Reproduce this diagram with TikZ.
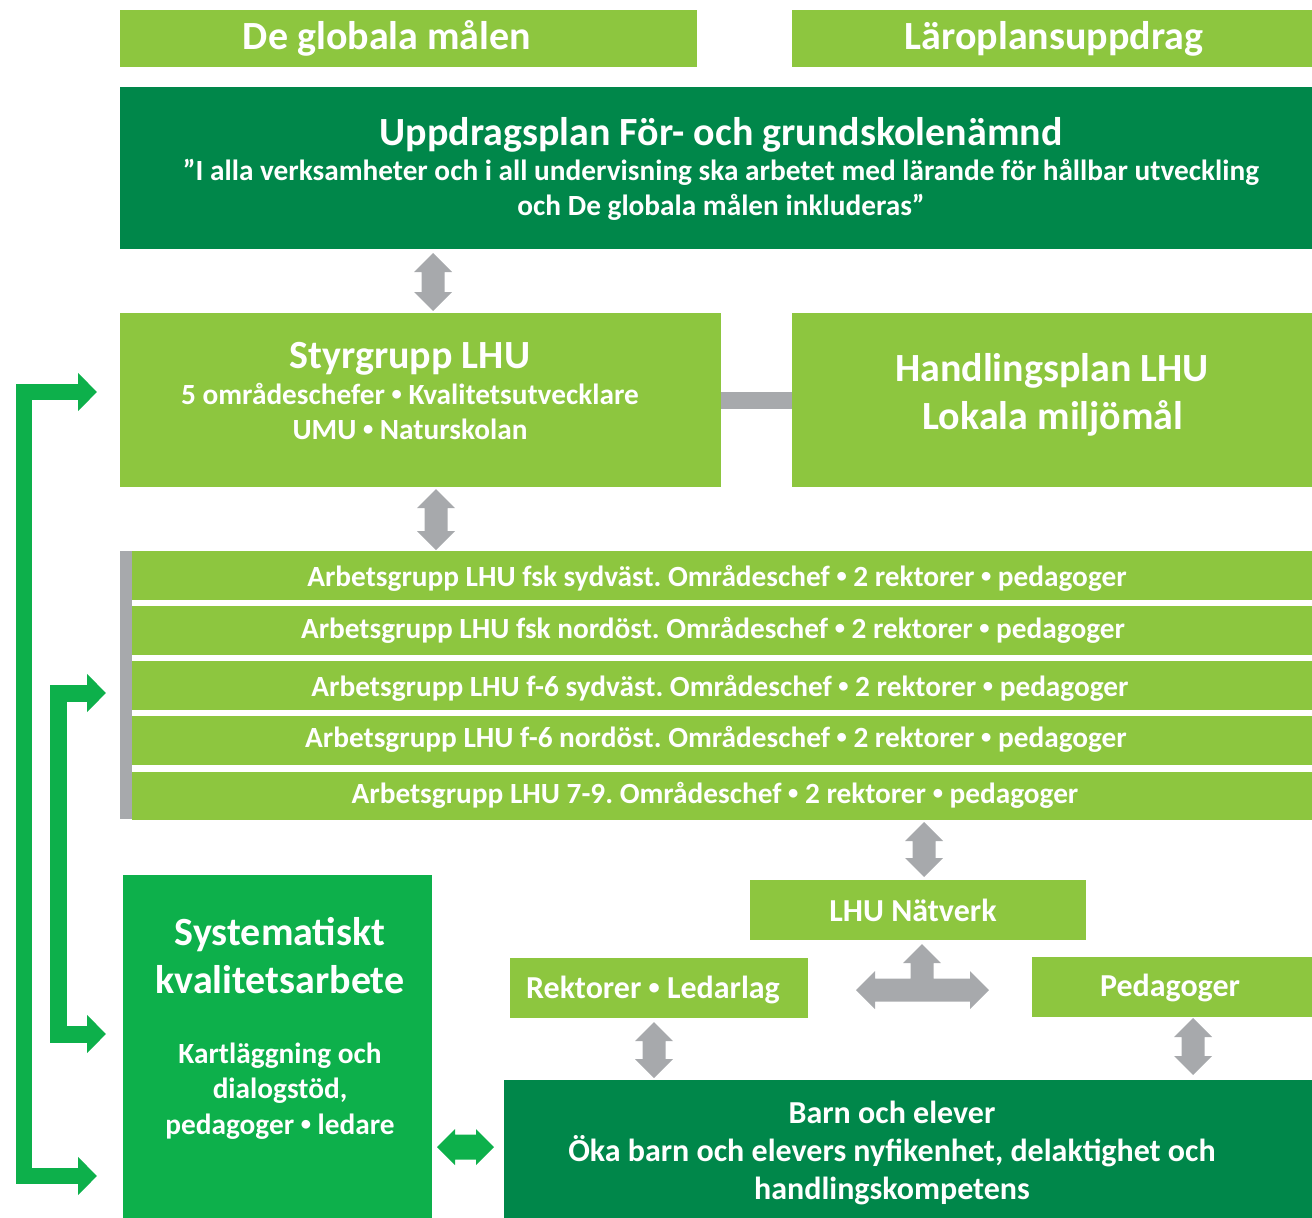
\documentclass[tikz,border=0pt]{standalone}
\usepackage{fontspec}
\usepackage{graphicx}
\setmainfont{Carlito}
\frenchspacing
\usetikzlibrary{calc,arrows.meta}
\definecolor{lgreen}{HTML}{8DC63F}
\definecolor{dgreen}{HTML}{00874A}
\definecolor{mgreen}{HTML}{0DB04B}
\definecolor{agray}{HTML}{A7A9AC}
\newcommand{\bul}{\raisebox{0.12em}{\scalebox{0.7}{•}}}
\tikzset{
  box/.style={rectangle, inner sep=0pt, outer sep=0pt, anchor=north west},
  lgbox/.style={box, fill=lgreen},
  dgbox/.style={box, fill=dgreen},
  mgbox/.style={box, fill=mgreen},
  txt/.style={text=white, anchor=base, inner sep=0pt, align=center},
  fbig/.style={txt, font=\fontsize{40}{40}\selectfont\bfseries},
  fmid/.style={txt, font=\fontsize{32}{32}\selectfont\bfseries},
  fsmall/.style={txt, font=\fontsize{29.3}{29.3}\selectfont\bfseries},
  garrow/.style={draw=mgreen, line width=16pt, line join=miter,
     {Triangle[width=37pt,length=19pt]}-{Triangle[width=37pt,length=19pt]}},
}
\newcommand{\vdarrow}[2]{\fill[agray] (#1) -- ($(#1)+(19,-19)$) -- ($(#1)+(11.5,-19)$) -- ($(#2)+(11.5,19)$) -- ($(#2)+(19,19)$) -- (#2) -- ($(#2)+(-19,19)$) -- ($(#2)+(-11.5,19)$) -- ($(#1)+(-11.5,-19)$) -- ($(#1)+(-19,-19)$) -- cycle;}
\newcommand{\hdarrow}[2]{\fill[mgreen] (#1) -- ($(#1)+(18,18)$) -- ($(#1)+(18,12.5)$) -- ($(#2)+(-18,12.5)$) -- ($(#2)+(-18,18)$) -- (#2) -- ($(#2)+(-18,-18)$) -- ($(#2)+(-18,-12.5)$) -- ($(#1)+(18,-12.5)$) -- ($(#1)+(18,-18)$) -- cycle;}
\begin{document}
\begin{tikzpicture}[x=1pt,y=1pt]
\useasboundingbox (0,0) rectangle (1312,-1218);
% top boxes
\node[lgbox, minimum width=577, minimum height=57] (glob) at (120,-10) {};
\node[lgbox, minimum width=520, minimum height=57] (laro) at (792,-10) {};
\node[fbig] (globt) at (387,-49) {De globala målen};
\node[fbig] (larot) at (1054,-49) {Läroplansuppdrag};
% uppdragsplan
\node[dgbox, minimum width=1192, minimum height=162] (upp) at (120,-87) {};
\node[fbig] (uppt) at (721,-145) {Uppdragsplan För- och grundskolenämnd};
\node[fsmall] (uppq1) at (721,-180) {”I alla verksamheter och i all undervisning ska arbetet med lärande för hållbar utveckling};
\node[fsmall] (uppq2) at (721,-215) {och De globala målen inkluderas”};
% styrgrupp & handlingsplan
\node[lgbox, minimum width=601, minimum height=174] (sty) at (120,-313) {};
\node[lgbox, minimum width=520, minimum height=174] (hand) at (792,-313) {};
\draw[agray, line width=17pt] (sty.east) -- (hand.west);
\node[fbig] (styt) at (410,-368.5) {Styrgrupp LHU};
\node[fsmall] (sty1) at (410,-404) {5 områdeschefer \bul{} Kvalitetsutvecklare};
\node[fsmall] (sty2) at (410,-439) {UMU \bul{} Naturskolan};
\node[fbig] (hand1) at (1052,-381) {Handlingsplan LHU};
\node[fbig] (hand2) at (1053,-429) {Lokala miljömål};
% arbetsgrupper
\node[box, fill=agray, minimum width=12, minimum height=268] (gbar) at (120,-551) {};
\node[lgbox, minimum width=1180, minimum height=49] (ag1) at (132,-551) {};
\node[lgbox, minimum width=1180, minimum height=49] (ag2) at (132,-606) {};
\node[lgbox, minimum width=1180, minimum height=49] (ag3) at (132,-661) {};
\node[lgbox, minimum width=1180, minimum height=49] (ag4) at (132,-716) {};
\node[lgbox, minimum width=1180, minimum height=48] (ag5) at (132,-772) {};
\node[fsmall] (ag1t) at (717,-586) {Arbetsgrupp LHU fsk sydväst. Områdeschef \bul{} 2 rektorer \bul{} pedagoger};
\node[fsmall] (ag2t) at (713,-638) {Arbetsgrupp LHU fsk nordöst. Områdeschef \bul{} 2 rektorer \bul{} pedagoger};
\node[fsmall] (ag3t) at (720,-696) {Arbetsgrupp LHU f-6 sydväst. Områdeschef \bul{} 2 rektorer \bul{} pedagoger};
\node[fsmall] (ag4t) at (716,-747) {Arbetsgrupp LHU f-6 nordöst. Områdeschef \bul{} 2 rektorer \bul{} pedagoger};
\node[fsmall] (ag5t) at (715,-803) {Arbetsgrupp LHU 7-9. Områdeschef \bul{} 2 rektorer \bul{} pedagoger};
% systematiskt
\node[mgbox, minimum width=309, minimum height=343] (sys) at (123,-875) {};
\node[fbig] (sys1) at (280,-945) {Systematiskt};
\node[fbig] (sys2) at (280,-993) {kvalitetsarbete};
\node[fsmall] (sys3) at (280,-1063) {Kartläggning och};
\node[fsmall] (sys4) at (280,-1098) {dialogstöd,};
\node[fsmall] (sys5) at (280,-1134) {pedagoger \bul{} ledare};
% network
\node[lgbox, minimum width=336, minimum height=60] (nat) at (750,-880) {};
\node[fmid] (natt) at (913,-921) {LHU Nätverk};
\node[lgbox, minimum width=298, minimum height=60] (rek) at (510,-958) {};
\node[fmid] (rekt) at (653,-998) {Rektorer \bul{} Ledarlag};
\node[lgbox, minimum width=280, minimum height=60] (ped) at (1032,-957) {};
\node[fmid] (pedt) at (1170,-996) {Pedagoger};
% barn
\node[dgbox, minimum width=808, minimum height=138] (barn) at (504,-1080) {};
\node[fmid] (barn1) at (892,-1123) {Barn och elever};
\node[fmid] (barn2) at (892,-1161) {Öka barn och elevers nyfikenhet, delaktighet och};
\node[fmid] (barn3) at (892,-1199) {handlingskompetens};
% gray double arrows
\coordinate (a1t) at (433,-253); \coordinate (a1b) at (433,-311);
\coordinate (a2t) at (436,-489); \coordinate (a2b) at (436,-550);
\coordinate (a3t) at (924,-822); \coordinate (a3b) at (924,-877);
\coordinate (a4t) at (654,-1022); \coordinate (a4b) at (654,-1078);
\coordinate (a5t) at (1193,-1018); \coordinate (a5b) at (1193,-1075);
\vdarrow{a1t}{a1b}
\vdarrow{a2t}{a2b}
\vdarrow{a3t}{a3b}
\vdarrow{a4t}{a4b}
\vdarrow{a5t}{a5b}
% T arrow
\fill[agray] (856,-990) -- (875,-971) -- (875,-978.5) -- (910.5,-978.5) -- (910.5,-963) -- (903,-963) -- (922,-944) -- (941,-963) -- (933.5,-963) -- (933.5,-978.5) -- (970,-978.5) -- (970,-971) -- (989,-990) -- (970,-1009) -- (970,-1001.5) -- (875,-1001.5) -- (875,-1009) -- cycle;
% green double arrow
\coordinate (h1) at (437,-1147); \coordinate (h2) at (494,-1147);
\hdarrow{h1}{h2}
% bracket arrows
\coordinate (b1) at (97,-392); \coordinate (b2) at (97,-1176);
\draw[garrow, line width=16pt] (b1) -| (23.5,-784) |- (b2);
\coordinate (c1) at (106,-693); \coordinate (c2) at (106,-1034);
\draw[garrow, line width=17pt] (c1) -| (58.5,-860) |- (c2);
\end{tikzpicture}
\end{document}
